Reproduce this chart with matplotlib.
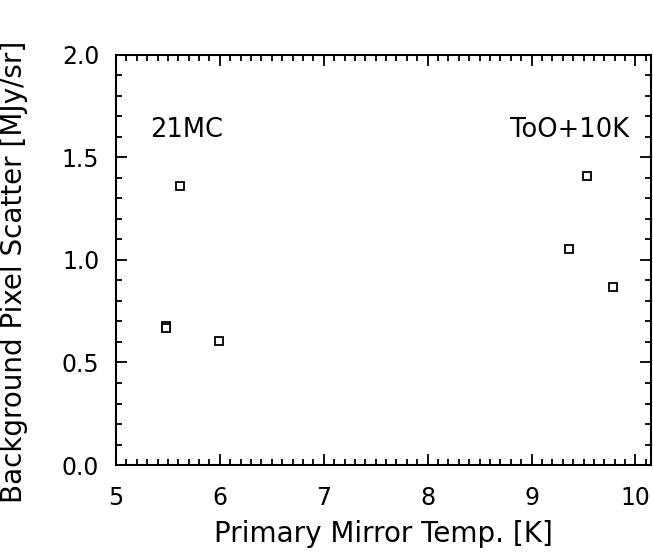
import matplotlib
matplotlib.use("Agg")
import matplotlib.pyplot as plt
from matplotlib.ticker import MultipleLocator

# data
temp_21mc = [5.62, 5.48, 5.48, 5.99]
scat_21mc = [1.36, 0.677, 0.667, 0.603]
temp_too = [9.53, 9.36, 9.78]
scat_too = [1.41, 1.052, 0.87]
x_ticks = [5, 6, 7, 8, 9, 10]
y_ticks = [0.0, 0.5, 1.0, 1.5, 2.0]

plt.rcParams['font.family'] = 'DejaVu Sans'

fig = plt.figure(figsize=(6.53, 5.52), dpi=100)
ax = fig.add_axes([0.1776, 0.1576, 0.8194, 0.7428])

allx = temp_21mc + temp_too
ally = scat_21mc + scat_too
ax.plot(allx, ally, ls='none', marker='s', ms=5.5, mfc='white', mec='black', mew=1.3)

ax.set_xlim(5, 10.15)
ax.set_ylim(0, 2.0)
ax.set_xticks(x_ticks)
ax.set_yticks(y_ticks)
ax.set_xticklabels([str(v) for v in x_ticks])
ax.set_yticklabels(['%.1f' % v for v in y_ticks])
ax.xaxis.set_minor_locator(MultipleLocator(0.1))
ax.yaxis.set_minor_locator(MultipleLocator(0.1))

ax.tick_params(which='both', direction='in', top=True, right=True, width=1.3, labelsize=17, colors='black')
ax.tick_params(which='major', length=8)
ax.tick_params(which='minor', length=4.5)
ax.tick_params(axis='x', which='major', pad=15)
ax.tick_params(axis='y', which='major', pad=12)
for s in ax.spines.values():
    s.set_linewidth(1.5)

ax.set_xlabel('Primary Mirror Temp. [K]', fontsize=20, labelpad=7)
ax.set_ylabel('Background Pixel Scatter [MJy/sr]', fontsize=20, labelpad=10)
ax.yaxis.set_label_coords(-0.165, 0.47)

ax.text(5.33, 1.635, '21MC', fontsize=18.5, ha='left', va='center')
ax.text(9.94, 1.635, 'ToO+10K', fontsize=18.5, ha='right', va='center')

fig.savefig('out.png', dpi=100)
